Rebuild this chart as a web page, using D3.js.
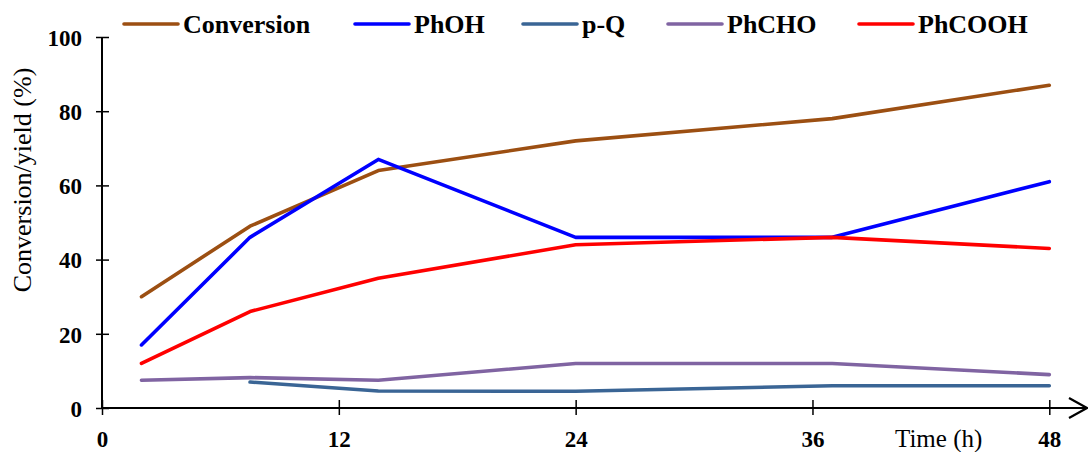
<!DOCTYPE html>
<html><head><meta charset="utf-8">
<script src="https://cdn.jsdelivr.net/npm/d3@7"></script>
<style>body{margin:0;background:#fff}svg{display:block}</style>
</head><body>
<script>
const times = [2, 7.5, 14, 24, 37, 48];
const conversion = [30, 49, 64, 72, 78, 87];
const phoh = [17, 46, 67, 46, 46, 61];
const pq = [null, 7, 4.6, 4.5, 6, 6];
const phcho = [7.5, 8.2, 7.5, 12, 12, 9];
const phcooh = [12, 26, 35, 44, 46, 43];
const seriesNames = ["Conversion", "PhOH", "p-Q", "PhCHO", "PhCOOH"];
const seriesColors = ["#9C4F12", "#0000FF", "#3A6595", "#8064A2", "#FF0000"];
const xTicks = [0, 12, 24, 36, 48];
const yTicks = [0, 20, 40, 60, 80, 100];

const seriesValues = [conversion, phoh, pq, phcho, phcooh];
const W = 1088, H = 452;
const svg = d3.select("body").append("svg").attr("width", W).attr("height", H);
const x = d3.scaleLinear().domain([0, 48]).range([102, 1049.3]);
const y = d3.scaleLinear().domain([0, 100]).range([408, 37]);
const serif = "'Liberation Serif','Times New Roman',serif";

// y axis
const yAx = svg.append("g").attr("transform", "translate(102,0)")
  .call(d3.axisLeft(y).tickValues(yTicks).tickSize(6).tickPadding(14).tickFormat(d3.format("d")));
yAx.select(".domain").remove();
yAx.selectAll(".tick line").attr("x1", 7).attr("x2", -6).attr("stroke", "#000").attr("stroke-width", 1.5);
yAx.selectAll(".tick text").attr("font-family", serif).attr("font-size", 23).attr("font-weight", "bold").attr("fill", "#000").attr("dy", "0.36em");
svg.append("line").attr("x1", 102).attr("x2", 102).attr("y1", y(100)).attr("y2", y(0)).attr("stroke", "#000").attr("stroke-width", 2);

// x axis
const xAx = svg.append("g").attr("transform", "translate(0,408)")
  .call(d3.axisBottom(x).tickValues(xTicks).tickSize(7).tickPadding(16).tickFormat(d3.format("d")));
xAx.select(".domain").remove();
xAx.selectAll(".tick line").attr("y1", -8).attr("y2", 7).attr("stroke", "#000").attr("stroke-width", 1.5);
xAx.selectAll(".tick text").attr("font-family", serif).attr("font-size", 23).attr("font-weight", "bold").attr("fill", "#000");
svg.append("line").attr("x1", 102).attr("x2", 1086).attr("y1", 408).attr("y2", 408).attr("stroke", "#000").attr("stroke-width", 2);
svg.append("path").attr("d", "M1069,398 L1087,408 L1069,418").attr("fill", "none").attr("stroke", "#000").attr("stroke-width", 2.2);

svg.append("text").attr("x", 895).attr("y", 447).attr("font-family", serif).attr("font-size", 25).attr("fill", "#000").text("Time (h)");
svg.append("text").attr("transform", "translate(31,180) rotate(-90)").attr("text-anchor", "middle")
  .attr("font-family", serif).attr("font-size", 26).attr("fill", "#000").text("Conversion/yield (%)");

// lines
const line = d3.line().defined(d => d.v != null).x(d => x(d.t)).y(d => y(d.v));
seriesValues.forEach((vals, i) => {
  const pts = times.map((t, j) => ({t, v: vals[j]}));
  svg.append("path").attr("d", line(pts)).attr("fill", "none").attr("stroke", seriesColors[i])
    .attr("stroke-width", 3.6).attr("stroke-linejoin", "round").attr("stroke-linecap", "round");
});

// legend
const legX = [124, 355, 523, 668, 859];
seriesNames.forEach((n, i) => {
  svg.append("line").attr("x1", legX[i]).attr("x2", legX[i] + 54).attr("y1", 24).attr("y2", 24)
    .attr("stroke", seriesColors[i]).attr("stroke-width", 3.6).attr("stroke-linecap", "round");
  svg.append("text").attr("x", legX[i] + 59).attr("y", 33).attr("font-family", serif).attr("font-size", 26)
    .attr("font-weight", "bold").attr("fill", "#000").text(n);
});
</script>
</body></html>
